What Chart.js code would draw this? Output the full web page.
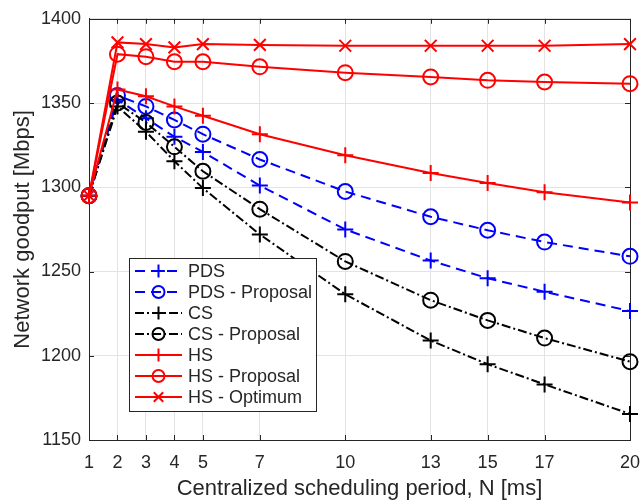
<!DOCTYPE html>
<html>
<head>
<meta charset="utf-8">
<script src="https://cdn.jsdelivr.net/npm/chart.js@4.4.0/dist/chart.umd.min.js"></script>
<style>
  html, body { margin: 0; padding: 0; background: #fff; }
  #wrap { width: 641px; height: 502px; }
</style>
</head>
<body>
<div id="wrap"><canvas id="goodput"></canvas></div>
<script>
// values
const periods = [1, 2, 3, 4, 5, 7, 10, 13, 15, 17, 20];
const pds = [1295, 1352, 1341, 1330, 1321, 1301, 1275, 1256.5, 1246, 1238, 1226.5];
const pdsProposal = [1295, 1354.5, 1348, 1340, 1331.5, 1316.5, 1297.5, 1282.5, 1274.5, 1267.5, 1259];
const cs = [1295, 1348, 1333, 1315.5, 1299.5, 1272, 1236.5, 1209, 1195, 1183, 1165.5];
const csProposal = [1295, 1350, 1338.5, 1324, 1309.5, 1287, 1256, 1233, 1221, 1210.5, 1196.5];
const hs = [1295, 1358, 1354, 1348, 1342.5, 1331.5, 1319, 1308.5, 1302.5, 1297, 1291];
const hsProposal = [1295, 1379, 1377.5, 1374.5, 1374.5, 1371.5, 1368, 1365.5, 1363.5, 1362.5, 1361.5];
const hsOptimum = [1295, 1386, 1385, 1383, 1385, 1384.5, 1384, 1384, 1384, 1384, 1385];
const xTicks = [1, 2, 3, 4, 5, 7, 10, 13, 15, 17, 20];

const textColor = '#262626';
const fontFamily = '"Liberation Sans", Arial, Helvetica, sans-serif';
const dashed = [10, 6];
const dashDot = [9, 3, 2, 3];

function points(values) {
    return periods.map((p, i) => ({ x: p, y: values[i] }));
}

function series(label, values, color, dash, marker, radius, order) {
    return {
        label: label,
        data: points(values),
        borderColor: color,
        backgroundColor: 'rgba(0,0,0,0)',
        borderWidth: 2,
        borderDash: dash,
        pointStyle: marker,
        pointRadius: radius,
        pointBorderColor: color,
        pointBackgroundColor: 'rgba(0,0,0,0)',
        pointBorderWidth: 2,
        tension: 0,
        clip: false,
        order: order
    };
}

const datasets = [
    series('PDS', pds, '#0000ff', dashed, 'cross', 8, 7),
    series('PDS - Proposal', pdsProposal, '#0000ff', dashed, 'circle', 7.5, 6),
    series('CS', cs, '#000000', dashDot, 'cross', 8, 5),
    series('CS - Proposal', csProposal, '#000000', dashDot, 'circle', 7.5, 4),
    series('HS', hs, '#ff0000', [], 'cross', 8, 3),
    series('HS - Proposal', hsProposal, '#ff0000', [], 'circle', 7.5, 2),
    series('HS - Optimum', hsOptimum, '#ff0000', [], 'crossRot', 8.3, 1)
];

function marker(ctx, style, x, y, r) {
    ctx.beginPath();
    if (style === 'circle') {
        ctx.arc(x, y, r, 0, Math.PI * 2);
    } else if (style === 'cross') {
        ctx.moveTo(x - r, y); ctx.lineTo(x + r, y);
        ctx.moveTo(x, y - r); ctx.lineTo(x, y + r);
    } else {
        const d = r * Math.SQRT1_2;
        ctx.moveTo(x - d, y - d); ctx.lineTo(x + d, y + d);
        ctx.moveTo(x - d, y + d); ctx.lineTo(x + d, y - d);
    }
    ctx.stroke();
}

// box round the axes and the inward tick marks, matlab style
const axesBox = {
    id: 'axesBox',
    beforeDatasetsDraw(chart) {
        const { ctx, chartArea: a, scales } = chart;
        ctx.save();
        ctx.strokeStyle = textColor;
        ctx.lineWidth = 1;
        ctx.beginPath();
        scales.x.ticks.forEach(t => {
            const px = Math.round(scales.x.getPixelForValue(t.value)) + 0.5;
            ctx.moveTo(px, a.bottom); ctx.lineTo(px, a.bottom - 5);
            ctx.moveTo(px, a.top); ctx.lineTo(px, a.top + 5);
        });
        scales.y.ticks.forEach(t => {
            const py = Math.round(scales.y.getPixelForValue(t.value)) + 0.5;
            ctx.moveTo(a.left, py); ctx.lineTo(a.left + 5, py);
            ctx.moveTo(a.right, py); ctx.lineTo(a.right - 5, py);
        });
        ctx.stroke();
        ctx.strokeRect(Math.round(a.left) + 0.5, Math.round(a.top) + 0.5,
            Math.round(a.right - a.left), Math.round(a.bottom - a.top));
        ctx.restore();
    }
};

const boxLegend = {
    id: 'boxLegend',
    afterDraw(chart) {
        const ctx = chart.ctx;
        const left = 129, top = 258, width = 187, rowH = 21;
        const height = rowH * chart.data.datasets.length + 6;
        ctx.save();
        ctx.fillStyle = '#ffffff';
        ctx.fillRect(left, top, width, height);
        ctx.strokeStyle = textColor;
        ctx.lineWidth = 1;
        ctx.strokeRect(left + 0.5, top + 0.5, width, height);
        ctx.font = '18px ' + fontFamily;
        ctx.textBaseline = 'middle';
        chart.data.datasets.forEach((ds, i) => {
            const y = top + 13 + i * rowH;
            ctx.strokeStyle = ds.borderColor;
            ctx.lineWidth = 2;
            ctx.setLineDash(ds.borderDash);
            ctx.beginPath();
            ctx.moveTo(135, y); ctx.lineTo(182, y);
            ctx.stroke();
            ctx.setLineDash([]);
            marker(ctx, ds.pointStyle, 158.5, y, ds.pointRadius * 0.8);
            ctx.fillStyle = textColor;
            ctx.fillText(ds.label, 188, y + 1);
        });
        ctx.restore();
    }
};

new Chart('goodput', {
    type: 'line',
    data: { datasets: datasets },
    options: {
        responsive: true,
        maintainAspectRatio: false,
        animation: false,
        layout: { padding: { top: 15, right: 0, bottom: 0, left: 0 } },
        plugins: { legend: { display: false }, tooltip: { enabled: false } },
        scales: {
            x: {
                type: 'linear',
                min: 1,
                max: 20,
                afterBuildTicks: s => { s.ticks = xTicks.map(v => ({ value: v })); },
                afterFit: s => { s.height = 62; s.paddingRight = 11; },
                grid: { color: '#e3e3e3', drawTicks: false },
                border: { color: textColor },
                ticks: {
                    color: textColor, padding: 12, maxRotation: 0, autoSkip: false,
                    font: { family: fontFamily, size: 18 },
                    callback: v => String(v)
                },
                title: {
                    display: true, text: 'Centralized scheduling period, N [ms]',
                    color: textColor, padding: { top: 0, bottom: 0 },
                    font: { family: fontFamily, size: 22 }
                }
            },
            y: {
                min: 1150,
                max: 1400,
                afterFit: s => { s.width = 89; },
                grid: { color: '#e3e3e3', drawTicks: false },
                border: { color: textColor },
                ticks: {
                    stepSize: 50, color: textColor, padding: 8,
                    font: { family: fontFamily, size: 18 },
                    callback: v => String(v)
                },
                title: {
                    display: true, text: 'Network goodput [Mbps]',
                    color: textColor, padding: { top: 10, bottom: 0 },
                    font: { family: fontFamily, size: 22 }
                }
            }
        }
    },
    plugins: [axesBox, boxLegend]
});
</script>
</body>
</html>
